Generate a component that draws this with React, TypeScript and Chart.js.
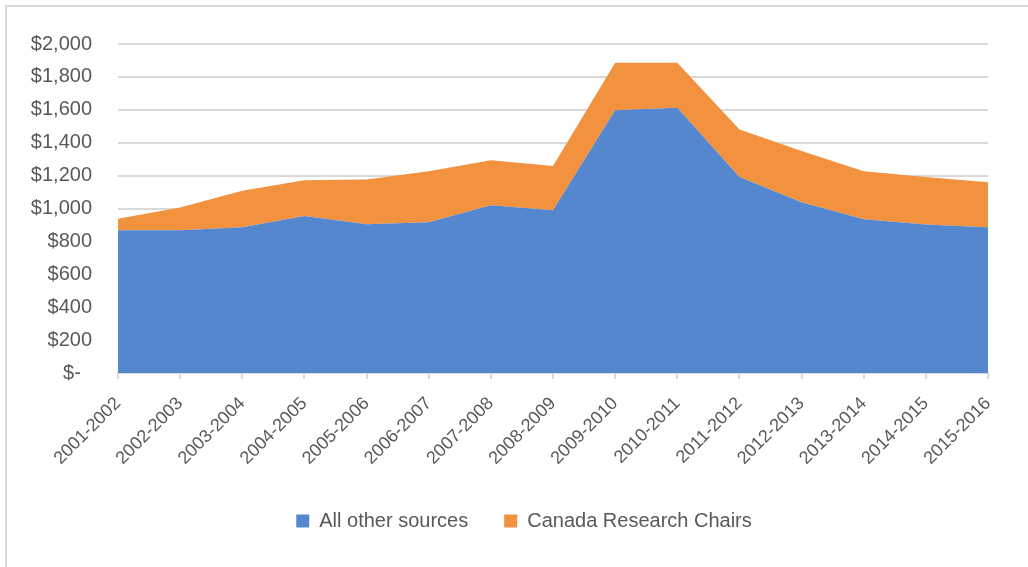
import React, { useEffect, useRef } from "react";
import { Chart, registerables } from "chart.js";

Chart.register(...registerables);

const categories = [
  "2001-2002", "2002-2003", "2003-2004", "2004-2005", "2005-2006",
  "2006-2007", "2007-2008", "2008-2009", "2009-2010", "2010-2011",
  "2011-2012", "2012-2013", "2013-2014", "2014-2015", "2015-2016",
];
const allOtherSources = [868, 868, 886, 955, 904, 917, 1020, 989, 1598, 1612, 1191, 1038, 935, 902, 886];
const canadaResearchChairs = [69, 138, 222, 217, 273, 309, 273, 270, 288, 274, 289, 311, 291, 289, 273];
const yTicks = [0, 200, 400, 600, 800, 1000, 1200, 1400, 1600, 1800, 2000];

const FONT = "'Liberation Sans', 'DejaVu Sans', sans-serif";
const TEXT = "#595959";
const BLUE = "rgb(84,135,206)";
const ORANGE = "rgb(242,145,62)";

function fmt(v: number): string {
  if (v === 0) return "$-  ";
  return "$" + v.toLocaleString("en-US");
}

const shiftLegend = {
  id: "shiftLegend",
  beforeDraw(chart: any) {
    if (chart.legend) {
      chart.legend.left = 60;
    }
  },
};

export default function App() {
  const ref = useRef<HTMLCanvasElement | null>(null);
  useEffect(() => {
    if (!ref.current) return;
    const chart = new Chart(ref.current, {
      type: "line",
      plugins: [shiftLegend],
      data: {
        labels: categories,
        datasets: [
          {
            label: "All other sources",
            data: allOtherSources,
            backgroundColor: BLUE,
            borderColor: BLUE,
            borderWidth: 0,
            pointRadius: 0,
            fill: "origin",
            tension: 0,
          },
          {
            label: "Canada Research Chairs",
            data: canadaResearchChairs,
            backgroundColor: ORANGE,
            borderColor: ORANGE,
            borderWidth: 0,
            pointRadius: 0,
            fill: "-1",
            tension: 0,
          },
        ],
      },
      options: {
        animation: false,
        responsive: false,
        maintainAspectRatio: false,
        layout: { padding: { left: 0, right: 40, top: 44, bottom: 26 } },
        plugins: {
          legend: {
            position: "bottom",
            labels: {
              color: TEXT,
              font: { family: FONT, size: 20 },
              boxWidth: 13,
              boxHeight: 13,
              padding: 36,
              useBorderRadius: false,
            },
          },
          tooltip: { enabled: false },
        },
        scales: {
          x: {
            offset: false,
            grid: {
              display: true,
              drawOnChartArea: false,
              drawTicks: true,
              tickLength: 6,
              color: "#D9D9D9",
              lineWidth: 2,
            },
            border: { display: true, color: "#D9D9D9", width: 2 },
            ticks: {
              color: TEXT,
              font: { family: FONT, size: 18 },
              minRotation: 45,
              maxRotation: 45,
              autoSkip: false,
              padding: 14,
            },
            afterFit: (s: any) => {
              s.height = 102;
            },
          },
          y: {
            stacked: true,
            min: 0,
            max: 2000,
            afterBuildTicks: (s: any) => {
              s.ticks = yTicks.map((v) => ({ value: v }));
            },
            grid: {
              color: "#D9D9D9",
              lineWidth: 2,
              drawTicks: false,
            },
            border: { display: false },
            ticks: {
              color: TEXT,
              font: { family: FONT, size: 20 },
              padding: 26,
              callback: (v: any) => fmt(Number(v)),
            },
            afterFit: (s: any) => {
              s.width = 118;
            },
          },
        },
      },
    });
    return () => chart.destroy();
  }, []);

  return (
    <div style={{ position: "fixed", left: 0, top: 0, width: 1028, height: 567, background: "#fff", overflow: "hidden" }}>
      <div
        style={{
          position: "absolute",
          left: 5,
          top: 5,
          width: 1040,
          height: 600,
          borderLeft: "2px solid #D9D9D9",
          borderTop: "2px solid #D9D9D9",
          boxSizing: "border-box",
        }}
      />
      <canvas ref={ref} width={1028} height={567} style={{ position: "absolute", left: 0, top: 0 }} />
    </div>
  );
}
